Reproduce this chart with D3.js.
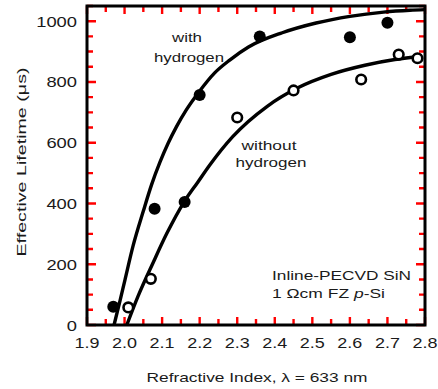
<!DOCTYPE html>
<html><head><meta charset="utf-8">
<script src="https://cdn.jsdelivr.net/npm/d3@7"></script>
<style>
html,body{margin:0;padding:0;background:#fff;}
svg{display:block;font-family:"Liberation Sans",Arial,sans-serif;}
</style></head>
<body>
<svg id="chart" width="438" height="389"></svg>
<script>
// measured points
const withH_x = [1.97, 2.08, 2.16, 2.20, 2.36, 2.60, 2.70];
const withH_y = [60, 383, 405, 757, 950, 947, 995];
const withoutH_x = [2.01, 2.07, 2.30, 2.45, 2.63, 2.73, 2.78];
const withoutH_y = [58, 152, 683, 772, 808, 890, 878];
// fitted curves
const fitWith_x = [1.972, 1.988, 2.001, 2.023, 2.05, 2.072, 2.094, 2.116, 2.138, 2.164, 2.195, 2.24, 2.28, 2.33, 2.42, 2.51, 2.60, 2.69, 2.76, 2.80];
const fitWith_y = [0, 80, 148, 262, 375, 462, 535, 598, 652, 707, 762, 830, 872, 915, 962, 994, 1016, 1030, 1036, 1038];
const fitWithout_x = [2.006, 2.036, 2.076, 2.112, 2.16, 2.195, 2.226, 2.288, 2.38, 2.46, 2.55, 2.64, 2.72, 2.78];
const fitWithout_y = [0, 95, 205, 300, 408, 470, 525, 620, 720, 780, 825, 855, 874, 883];
const xTicks = [1.9, 2.0, 2.1, 2.2, 2.3, 2.4, 2.5, 2.6, 2.7, 2.8];
const xMinorTicks = [1.95, 2.05, 2.15, 2.25, 2.35, 2.45, 2.55, 2.65, 2.75];
const yTicks = [0, 200, 400, 600, 800, 1000];
const yMinorTicks = [50, 100, 150, 250, 300, 350, 450, 500, 550, 650, 700, 750, 850, 900, 950, 1050];
const xDomain = [1.9, 2.8];
const yDomain = [0, 1050];

const svg = d3.select("#chart");
const L = 87, R = 425, T = 6, B = 325;
const x = d3.scaleLinear().domain(xDomain).range([L, R]);
const y = d3.scaleLinear().domain(yDomain).range([B, T]);
const ink = "#000";

// inside ticks, one path
let tp = "";
xTicks.forEach(v => { const p = x(v); tp += `M${p},${B}V${B - 8}M${p},${T}V${T + 8}`; });
xMinorTicks.forEach(v => { const p = x(v); tp += `M${p},${B}V${B - 6}M${p},${T}V${T + 6}`; });
yTicks.forEach(v => { const p = y(v); tp += `M${L},${p}H${L + 9}M${R},${p}H${R - 9}`; });
yMinorTicks.forEach(v => { const p = y(v); tp += `M${L},${p}H${L + 6}M${R},${p}H${R - 6}`; });
svg.append("path").attr("d", tp).attr("fill", "none").attr("stroke", "red").attr("stroke-width", 2.4);

// frame
svg.append("rect").attr("x", L).attr("y", T).attr("width", R - L).attr("height", B - T)
  .attr("fill", "none").attr("stroke", ink).attr("stroke-width", 3);

// tick labels
svg.append("g").selectAll("text").data(xTicks).join("text")
  .attr("x", d => x(d)).attr("y", 348).attr("text-anchor", "middle")
  .attr("font-size", 14.5).attr("fill", "#1a1a1a")
  .attr("textLength", 25).attr("lengthAdjust", "spacingAndGlyphs")
  .text(d => d.toFixed(1));
svg.append("g").selectAll("text").data(yTicks).join("text")
  .attr("x", 77).attr("y", d => y(d) + 5.5).attr("text-anchor", "end")
  .attr("font-size", 14.5).attr("fill", "#1a1a1a")
  .attr("textLength", d => String(d).length * 10.2).attr("lengthAdjust", "spacingAndGlyphs")
  .text(d => d);

// axis titles
svg.append("text").attr("x", 257).attr("y", 382).attr("text-anchor", "middle")
  .attr("font-size", 13).attr("fill", "#1a1a1a")
  .attr("textLength", 221).attr("lengthAdjust", "spacingAndGlyphs")
  .text("Refractive Index, λ = 633 nm");
svg.append("text").attr("transform", "translate(26,162) rotate(-90)").attr("text-anchor", "middle")
  .attr("font-size", 12.5).attr("fill", "#1a1a1a")
  .attr("textLength", 189).attr("lengthAdjust", "spacingAndGlyphs")
  .text("Effective Lifetime (μs)");

// curves
const line = d3.line().x(d => x(d[0])).y(d => y(d[1])).curve(d3.curveMonotoneX);
svg.append("path").datum(fitWith_x.map((v, i) => [v, fitWith_y[i]]))
  .attr("d", line).attr("fill", "none").attr("stroke", ink).attr("stroke-width", 3.4);
svg.append("path").datum(fitWithout_x.map((v, i) => [v, fitWithout_y[i]]))
  .attr("d", line).attr("fill", "none").attr("stroke", ink).attr("stroke-width", 3.4);

// markers
svg.append("g").selectAll("circle").data(withH_x.map((v, i) => [v, withH_y[i]])).join("circle")
  .attr("cx", d => x(d[0])).attr("cy", d => y(d[1])).attr("r", 6).attr("fill", ink);
svg.append("g").selectAll("circle").data(withoutH_x.map((v, i) => [v, withoutH_y[i]])).join("circle")
  .attr("cx", d => x(d[0])).attr("cy", d => y(d[1])).attr("r", 4.8)
  .attr("fill", "#fff").attr("stroke", ink).attr("stroke-width", 2.6);

// annotations
function note(txt, px, py, anchor, w) {
  return svg.append("text").attr("x", px).attr("y", py).attr("text-anchor", anchor)
    .attr("font-size", 12.5).attr("fill", "#1a1a1a")
    .attr("textLength", w).attr("lengthAdjust", "spacingAndGlyphs").text(txt);
}
note("with", 187, 42, "middle", 30);
note("hydrogen", 189, 62, "middle", 70);
note("without", 269, 150, "middle", 55);
note("hydrogen", 271, 167, "middle", 71);
note("Inline-PECVD SiN", 272, 280, "start", 139);
const t2 = svg.append("text").attr("x", 272).attr("y", 298).attr("font-size", 12.5).attr("fill", "#1a1a1a")
  .attr("textLength", 113).attr("lengthAdjust", "spacingAndGlyphs");
t2.append("tspan").text("1 Ωcm FZ ");
t2.append("tspan").attr("font-style", "italic").text("p");
t2.append("tspan").text("-Si");
</script>
</body></html>
